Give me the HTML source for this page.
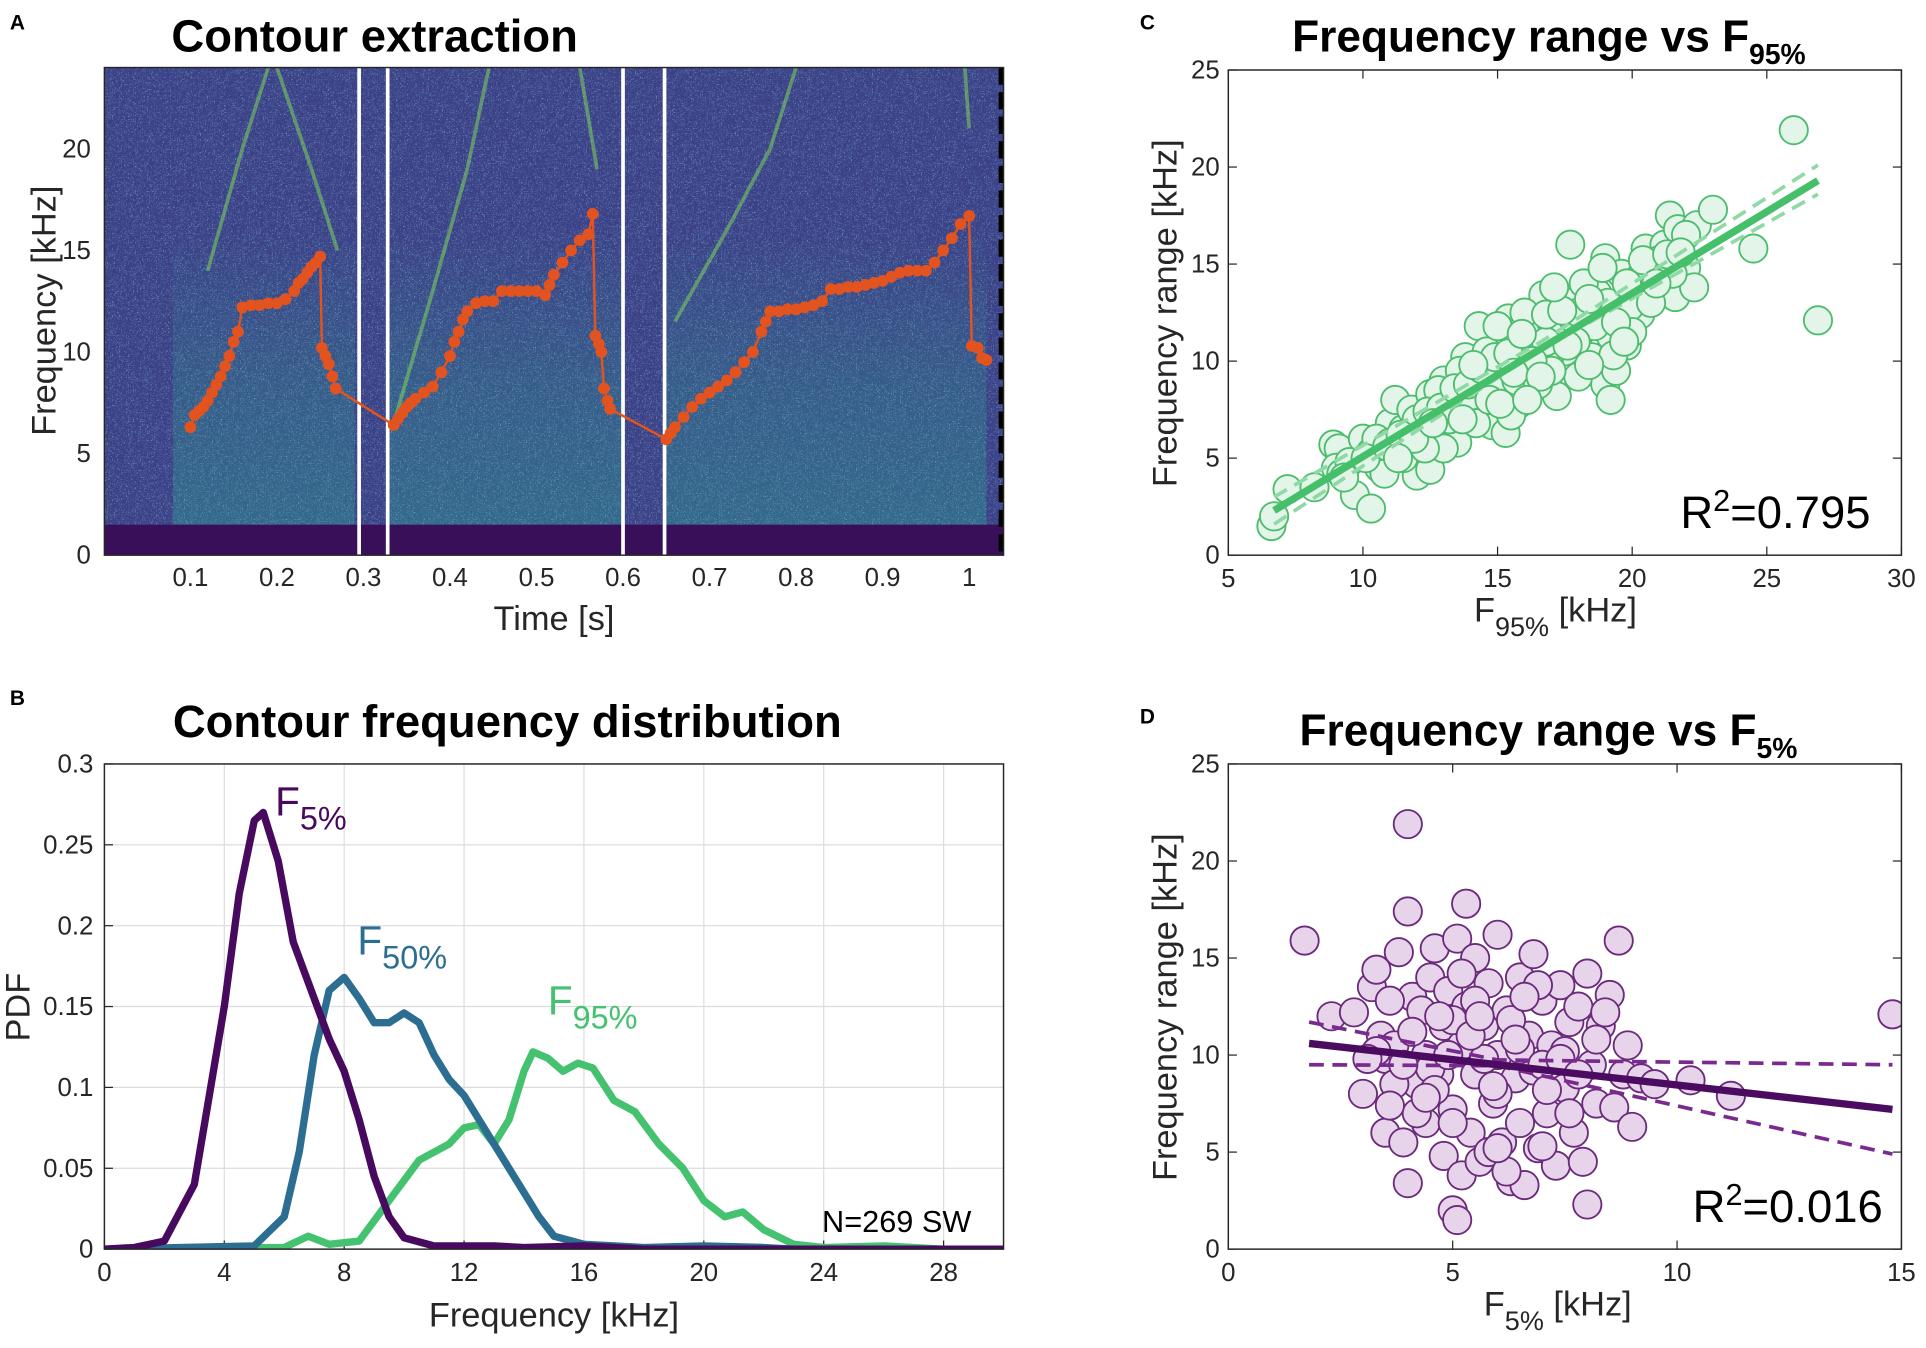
<!DOCTYPE html>
<html><head><meta charset="utf-8">
<style>
html,body{margin:0;padding:0;background:#fff;}
svg{display:block;font-family:"Liberation Sans",Arial,sans-serif;}
</style></head>
<body>
<svg id="fig" width="1926" height="1348" viewBox="0 0 1568 1097.5" preserveAspectRatio="none" xmlns="http://www.w3.org/2000/svg">
<defs>
<filter id="noise" x="0" y="0" width="100%" height="100%">
<feTurbulence type="turbulence" baseFrequency="0.7" numOctaves="2" seed="3"/>
<feColorMatrix type="matrix" values="0 0 0 0 0.17  0 0 0 0 0.45  0 0 0 0 0.55  2.2 0 0 0 -0.55"/>
</filter>
<filter id="noise2" x="0" y="0" width="100%" height="100%">
<feTurbulence type="turbulence" baseFrequency="0.9" numOctaves="1" seed="11"/>
<feColorMatrix type="matrix" values="0 0 0 0 0.24  0 0 0 0 0.12  0 0 0 0 0.45  0 2.2 0 0 -0.6"/>
</filter>
<linearGradient id="teal" x1="0" y1="1" x2="0" y2="0">
<stop offset="0" stop-color="#2a8a8c" stop-opacity="0.55"/>
<stop offset="0.5" stop-color="#2a8a8c" stop-opacity="0.35"/>
<stop offset="1" stop-color="#2a8a8c" stop-opacity="0"/>
</linearGradient>
<clipPath id="clipA"><rect x="85" y="55" width="732" height="397"/></clipPath>
<clipPath id="clipC"><rect x="1000" y="57" width="548" height="395"/></clipPath>
<clipPath id="clipD"><rect x="1000" y="622" width="548" height="395"/></clipPath>
<clipPath id="clipB"><rect x="85" y="622" width="732" height="395"/></clipPath>
</defs>
<g id="root"></g>
</svg>
<script>
// ---------- Data ----------
const contourT = [0.1,0.105,0.11,0.115,0.12,0.125,0.13,0.135,0.14,0.145,0.15,0.155,0.16,0.17,0.18,0.19,0.2,0.21,0.22,0.225,0.23,0.235,0.24,0.245,0.25,0.252,0.256,0.26,0.264,0.268,0.335,0.34,0.345,0.35,0.355,0.36,0.37,0.38,0.39,0.4,0.405,0.41,0.415,0.42,0.43,0.44,0.45,0.46,0.47,0.48,0.49,0.5,0.51,0.515,0.52,0.53,0.54,0.55,0.56,0.565,0.568,0.572,0.575,0.578,0.582,0.585,0.65,0.655,0.66,0.67,0.68,0.69,0.7,0.71,0.72,0.73,0.74,0.75,0.76,0.765,0.77,0.78,0.79,0.8,0.81,0.82,0.83,0.84,0.85,0.86,0.87,0.88,0.89,0.9,0.91,0.92,0.93,0.94,0.95,0.96,0.97,0.98,0.99,1.0,1.003,1.01,1.015,1.02];
const contourF = [6.3,6.9,7.1,7.3,7.6,8.0,8.4,8.8,9.3,9.8,10.5,11.0,12.2,12.3,12.3,12.4,12.4,12.6,13.0,13.4,13.6,13.9,14.2,14.4,14.7,10.2,9.8,9.4,8.8,8.2,6.4,6.7,7.0,7.3,7.5,7.7,8.0,8.3,9.0,9.8,10.5,11.0,11.6,12.0,12.4,12.5,12.5,13.0,13.0,13.0,13.0,13.0,12.8,13.3,13.8,14.4,15.0,15.5,15.8,16.8,10.8,10.4,10.0,8.2,7.6,7.2,5.7,6.0,6.3,6.8,7.3,7.7,8.0,8.3,8.6,9.0,9.5,10.0,11.0,11.5,12.0,12.0,12.1,12.1,12.2,12.3,12.5,13.1,13.1,13.2,13.2,13.3,13.4,13.5,13.7,13.9,14.0,14.0,14.0,14.4,15.0,15.6,16.3,16.7,10.3,10.2,9.7,9.6];
const separatorsT = [0.295,0.328,0.6,0.648];
const timeTicks = [0.1,0.2,0.3,0.4,0.5,0.6,0.7,0.8,0.9,1];
const freqTicksA = [0,5,10,15,20];

const pdfFreq5 = [0,1,2,3,4,4.5,5,5.3,5.8,6.3,7,7.5,8,8.5,9,9.5,10,11,12,13,14,16,18,30];
const pdfVal5  = [0,0.001,0.005,0.04,0.15,0.22,0.265,0.27,0.24,0.19,0.155,0.13,0.11,0.08,0.045,0.02,0.007,0.002,0.002,0.002,0.001,0.002,0,0];
const pdfFreq50 = [0,5,6,6.5,7,7.5,8,8.5,9,9.5,10,10.5,11,11.5,12,12.5,13,13.5,14,14.5,15,16,18,20,22,23,30];
const pdfVal50  = [0,0.002,0.02,0.06,0.12,0.16,0.168,0.155,0.14,0.14,0.146,0.14,0.12,0.105,0.095,0.08,0.065,0.05,0.035,0.02,0.008,0.003,0.001,0.002,0.001,0,0];
const pdfFreq95 = [0,6,6.8,7.5,8.5,9.5,10.5,11.5,12,12.5,13,13.5,14,14.3,14.8,15.3,15.8,16.3,17,17.7,18.5,19.3,20,20.7,21.3,22,23,24,26,28,30];
const pdfVal95  = [0,0.001,0.008,0.003,0.005,0.03,0.055,0.065,0.075,0.077,0.065,0.08,0.11,0.122,0.118,0.11,0.115,0.112,0.092,0.085,0.065,0.05,0.03,0.02,0.023,0.012,0.003,0.001,0.002,0,0];
const pdfXTicks = [0,4,8,12,16,20,24,28];
const pdfYTicks = [0,0.05,0.1,0.15,0.2,0.25,0.3];

const scatterC_x = [6.6,6.7,7.2,8.2,8.9,9.1,9.0,9.2,9.7,10.3,10.0,10.3,10.6,10.8,11.0,11.2,11.5,11.8,12.0,12.2,12.5,12.5,12.8,13.0,13.3,13.5,13.8,14.0,14.3,14.5,14.8,15.0,15.2,15.3,15.4,15.5,15.8,16.0,16.2,16.4,16.6,16.7,17.0,17.2,17.5,17.6,17.7,18.0,18.0,18.3,18.5,18.7,19.0,19.0,19.2,19.2,19.5,19.6,19.8,20.0,20.3,20.5,20.8,21.0,21.2,21.4,21.6,21.7,22.0,22.3,22.4,23.0,24.5,26.0,26.9,9.5,10.5,11.5,12.0,12.8,13.2,13.6,14.0,14.6,15.0,15.7,16.0,16.5,16.9,17.3,17.8,18.2,18.6,19.1,19.4,19.9,20.2,20.7,21.0,21.5,22.0,14.2,13.0,12.3,11.0,15.5,16.8,17.0,18.0,19.3,20.0,9.3,10.1,10.9,11.4,11.9,12.4,12.9,13.4,13.9,14.4,14.9,15.4,15.9,16.3,16.8,17.4,17.9,18.4,18.9,19.4,19.8,20.4,20.9,21.3,21.8,13.7,14.7,15.6,16.6,17.6,18.4,19.7,12.6,11.3,14.1,15.1,16.1,17.1];
const scatterC_y = [1.5,2.0,3.4,3.5,5.7,5.5,4.5,4.2,3.1,2.4,6.0,5.3,4.5,4.2,6.8,8.0,6.5,7.5,4.1,6.5,4.4,8.3,6.0,9.0,8.0,5.8,10.2,7.3,11.8,9.0,6.7,8.5,9.9,6.3,12.2,11.0,7.8,10.5,8.7,11.7,9.6,13.4,12.0,8.2,10.5,13.0,16.0,9.2,11.3,12.8,10.2,13.5,8.8,15.3,8.0,11.3,12.3,14.5,10.8,13.6,12.4,15.8,14.8,13.5,16.0,17.5,13.3,16.8,14.8,13.8,17.0,17.8,15.8,21.9,12.1,4.8,6.0,5.0,7.0,8.5,7.0,9.5,8.2,10.5,11.8,9.0,12.5,8.8,10.0,11.2,12.2,14.0,11.8,13.0,9.5,12.8,14.2,13.0,15.2,14.5,16.5,6.8,5.5,5.5,5.8,7.2,11.0,9.5,12.5,10.3,11.5,4.0,5.0,5.6,6.2,6.0,7.4,7.6,8.6,8.8,9.6,10.2,10.4,11.4,10.0,12.4,12.6,11.0,13.2,14.8,12.0,14.0,15.2,14.0,15.5,15.6,7.0,8.0,9.4,9.2,10.8,9.8,11.0,6.8,5.0,9.8,7.8,8.0,13.8];
const fitC_x = [6.7,26.9];
const fitC_y = [2.3,19.3];
const ciC_x = [6.7,16.5,26.9];
const ciC_lo = [1.6,10.5,18.6];
const ciC_hi = [3.0,10.9,20.1];
const cXTicks = [5,10,15,20,25,30];
const rangeTicks = [0,5,10,15,20,25];

const scatterD_x = [1.7,2.3,2.8,3.0,3.2,3.3,3.4,3.5,3.5,3.7,3.8,3.9,4.0,4.0,4.0,4.1,4.2,4.3,4.4,4.4,4.5,4.6,4.7,4.8,4.8,4.9,5.0,5.0,5.1,5.1,5.2,5.2,5.3,5.3,5.4,5.5,5.5,5.6,5.7,5.8,5.9,6.0,6.0,6.1,6.2,6.3,6.4,6.5,6.5,6.6,6.7,6.8,6.8,6.9,7.0,7.1,7.2,7.3,7.4,7.5,7.6,7.7,7.8,7.9,8.0,8.0,8.1,8.2,8.3,8.5,8.6,8.7,8.8,9.0,9.2,9.5,10.3,11.2,14.8,4.5,5.0,5.5,6.0,6.5,7.0,7.5,4.2,3.7,5.8,6.2,7.0,3.3,3.6,4.1,4.6,5.2,5.7,6.3,6.9,7.4,8.2,3.9,4.4,4.9,5.4,5.9,6.4,7.1,7.8,8.4,3.1,3.6,4.7,5.6,6.6,7.6,8.9,5.0,6.0];
const scatterD_y = [15.9,12.0,12.2,8.0,13.5,14.4,11.0,9.8,6.0,10.5,15.3,5.5,17.4,21.9,3.4,13.0,8.5,12.3,10.0,6.5,14.0,15.5,9.0,11.5,4.8,13.3,7.2,2.0,16.0,1.5,10.5,3.8,17.8,12.5,6.0,15.0,9.0,4.5,11.5,13.7,7.5,16.2,10.0,5.5,12.3,3.5,8.8,14.0,6.5,3.3,11.0,15.2,9.2,5.2,12.8,7.0,10.5,4.3,13.6,8.3,11.7,6.0,12.5,4.5,14.2,2.3,9.5,7.5,11.5,13.1,7.3,15.9,9.0,6.3,8.8,8.5,8.7,7.9,12.1,9.3,11.8,12.8,8.0,10.3,9.5,10.2,7.0,8.5,5.0,4.0,5.3,10.2,12.8,11.2,8.2,14.2,9.8,11.8,13.6,9.8,10.8,9.5,7.8,10.0,11.0,8.4,10.8,8.2,9.0,12.2,9.8,7.4,12.0,12.0,13.0,7.0,10.5,6.5,5.2];
const fitD_x = [1.8,14.8];
const fitD_y = [10.6,7.2];
const ciD_x = [1.8,6.0,14.8];
const ciD_lo = [9.5,9.45,4.9];
const ciD_hi = [11.7,9.75,9.5];
const dXTicks = [0,5,10,15];

// ---------- helpers ----------
const NS = "http://www.w3.org/2000/svg";
const root = document.getElementById('root');
function mk(tag, attrs, parent){
  const e = document.createElementNS(NS, tag);
  for (const k in attrs) e.setAttribute(k, attrs[k]);
  (parent||root).appendChild(e);
  return e;
}
function txt(s, x, y, size, opts, parent){
  opts = opts||{};
  const t = mk('text', {x:x, y:y, 'font-size':size, fill:opts.fill||'#262626', 'text-anchor':opts.anchor||'middle', 'font-weight':opts.weight||'normal'}, parent);
  if (opts.rotate) t.setAttribute('transform', 'rotate(-90 '+x+' '+y+')');
  t.textContent = s;
  return t;
}
function lin(d0,d1,r0,r1){ return v => r0 + (v-d0)*(r1-r0)/(d1-d0); }

// ---------- Panel A ----------
const gA = mk('g', {});


const xA = lin(0.1,1,155,789), yA = lin(0,24,452,55);
const spec = mk('g', {'clip-path':'url(#clipA)'}, gA);
mk('rect', {x:85,y:55,width:732,height:397,fill:'#3a3f86'}, spec);
[[0.08,0.29],[0.33,0.6],[0.65,1.02]].forEach(r=>{
  mk('rect', {x:xA(r[0]),y:yA(16),width:xA(r[1])-xA(r[0]),height:yA(1.5)-yA(16),fill:'url(#teal)'}, spec);
});
mk('rect', {x:85,y:55,width:732,height:397,filter:'url(#noise)',opacity:0.7}, spec);
mk('rect', {x:85,y:55,width:732,height:397,filter:'url(#noise2)',opacity:0.6}, spec);
mk('rect', {x:85,y:yA(1.5),width:732,height:yA(0)-yA(1.5),fill:'#3a0f5a'}, spec);
const streaks = [[[0.12,14],[0.16,20],[0.19,24]],[[0.335,6.5],[0.38,13],[0.42,19],[0.445,24]],[[0.66,11.5],[0.72,16],[0.77,20],[0.8,24]],[[0.2,24],[0.24,19],[0.27,15]],[[0.55,24],[0.57,19]],[[0.995,24],[1.0,21]]];
streaks.forEach(s=>{
  const p = mk('polyline', {points:s.map(q=>xA(q[0])+','+yA(q[1])).join(' '), fill:'none', stroke:'#7ed35a', 'stroke-width':3, opacity:0.55}, spec);
  
  
});
separatorsT.forEach(t=>{
  const l = mk('line', {x1:xA(t),x2:xA(t),y1:55,y2:452,stroke:'#fff','stroke-width':3}, spec);
  
  
});
mk('line', {x1:815,x2:815,y1:55,y2:452,stroke:'#000','stroke-width':4,'stroke-dasharray':'14 6'}, spec);
const cl = mk('polyline', {points:contourT.map((t,i)=>xA(t)+','+yA(contourF[i])).join(' '), fill:'none', stroke:'#e2531f','stroke-width':2}, spec);


contourT.forEach((t,i)=>{
  const c = mk('circle', {cx:xA(t), cy:yA(contourF[i]), r:4.8, fill:'#e2531f'}, spec);
  
  
});
mk('rect', {x:85,y:55,width:732,height:397,fill:'none',stroke:'#262626','stroke-width':1.2}, gA);
timeTicks.forEach(t=>{ txt(String(t), xA(t), 477, 21, {}, gA); });
freqTicksA.forEach(f=>{ txt(String(f), 74, yA(f)+7, 21, {anchor:'end'}, gA); });
txt('Time [s]', 451, 513, 28, {}, gA);
txt('Frequency [kHz]', 45, 253, 28, {rotate:true}, gA);
txt('Contour extraction', 305, 42, 37, {weight:'bold', fill:'#000'}, gA);
txt('A', 8, 24, 17, {weight:'bold', fill:'#000', anchor:'start'}, gA);

// ---------- Panel B ----------
const gB = mk('g', {});


const xB = lin(0,30,85,817), yB = lin(0,0.3,1017,622);
pdfXTicks.forEach(v=>{ mk('line',{x1:xB(v),x2:xB(v),y1:622,y2:1017,stroke:'#dcdcdc','stroke-width':1},gB); txt(String(v), xB(v), 1043, 21, {}, gB); mk('line',{x1:xB(v),x2:xB(v),y1:1017,y2:1010,stroke:'#262626'},gB);});
pdfYTicks.forEach(v=>{ mk('line',{x1:85,x2:817,y1:yB(v),y2:yB(v),stroke:'#dcdcdc','stroke-width':1},gB); txt(String(v), 76, yB(v)+7, 21, {anchor:'end'}, gB); mk('line',{x1:85,x2:92,y1:yB(v),y2:yB(v),stroke:'#262626'},gB);});
const gBc = mk('g', {'clip-path':'url(#clipB)'}, gB);
function curve(xs, ys, color, name){
  const p = mk('polyline', {points:xs.map((x,i)=>xB(x)+','+yB(ys[i])).join(' '), fill:'none', stroke:color, 'stroke-width':6, 'stroke-linejoin':'round','stroke-linecap':'round'}, gBc);
  
  
}
curve(pdfFreq95, pdfVal95, '#44c26f', 'curve-f95');
curve(pdfFreq50, pdfVal50, '#2c6e91', 'curve-f50');
curve(pdfFreq5, pdfVal5, '#470a5e', 'curve-f5');
mk('rect', {x:85,y:622,width:732,height:395,fill:'none',stroke:'#262626','stroke-width':1.2}, gB);
function subLabel(main, sub, x, y, color, size, parent){
  const t = mk('text', {x:x,y:y,'font-size':size,fill:color}, parent);
  t.textContent = main;
  const ts = mk('tspan', {dy:size*0.35,'font-size':size*0.8}, t);
  ts.textContent = sub;
  return t;
}
subLabel('F','5%', 224, 664, '#470a5e', 33, gB);
subLabel('F','50%', 291, 777, '#2c6e91', 33, gB);
subLabel('F','95%', 446, 826, '#44c26f', 33, gB);
txt('N=269 SW', 730, 1003, 25, {fill:'#000'}, gB);
txt('Frequency [kHz]', 451, 1080, 28, {}, gB);
txt('PDF', 24, 820, 28, {rotate:true}, gB);
txt('Contour frequency distribution', 413, 600, 37, {weight:'bold', fill:'#000'}, gB);
txt('B', 8, 574, 17, {weight:'bold', fill:'#000', anchor:'start'}, gB);

// ---------- Panels C & D ----------
function scatterPanel(cfg){
  const g = mk('g', {});
  
  
  const X = lin(cfg.xd[0],cfg.xd[1],1000,1548), Y = lin(0,25,cfg.y0+395,cfg.y0);
  cfg.xt.forEach(v=>{ txt(String(v), X(v), cfg.y0+421, 21, {}, g); mk('line',{x1:X(v),x2:X(v),y1:cfg.y0+395,y2:cfg.y0+388,stroke:'#262626'},g); mk('line',{x1:X(v),x2:X(v),y1:cfg.y0,y2:cfg.y0+7,stroke:'#262626'},g);});
  rangeTicks.forEach(v=>{ txt(String(v), 993, Y(v)+7, 21, {anchor:'end'}, g); mk('line',{x1:1000,x2:1007,y1:Y(v),y2:Y(v),stroke:'#262626'},g); mk('line',{x1:1548,x2:1541,y1:Y(v),y2:Y(v),stroke:'#262626'},g);});
  const gc = mk('g', {'clip-path':'url('+cfg.clip+')'}, g);
  cfg.xs.forEach((x,i)=>{
    const c = mk('circle', {cx:X(x), cy:Y(cfg.ys[i]), r:11.5, fill:cfg.fill, stroke:cfg.stroke, 'stroke-width':1.5}, gc);
    
    
  });
  const lo = mk('polyline', {points:cfg.cix.map((x,i)=>X(x)+','+Y(cfg.cilo[i])).join(' '), fill:'none', stroke:cfg.ci, 'stroke-width':3, 'stroke-dasharray':'12 7'}, gc);
  
  
  const hi = mk('polyline', {points:cfg.cix.map((x,i)=>X(x)+','+Y(cfg.cihi[i])).join(' '), fill:'none', stroke:cfg.ci, 'stroke-width':3, 'stroke-dasharray':'12 7'}, gc);
  
  
  const f = mk('line', {x1:X(cfg.fx[0]),y1:Y(cfg.fy[0]),x2:X(cfg.fx[1]),y2:Y(cfg.fy[1]),stroke:cfg.line,'stroke-width':6}, gc);
  
  
  mk('rect', {x:1000,y:cfg.y0,width:548,height:395,fill:'none',stroke:'#262626','stroke-width':1.2}, g);
  const r2 = mk('text', {x:cfg.r2x, y:cfg.y0+373, 'font-size':37, fill:'#000'}, g);
  r2.textContent = 'R';
  const sup = mk('tspan', {dy:-14,'font-size':25}, r2); sup.textContent = '2';
  const rv = mk('tspan', {dy:14}, r2); rv.textContent = '='+cfg.r2;
  const xl = mk('text', {x:cfg.xlx, y:cfg.y0+449, 'font-size':28, fill:'#262626'}, g);
  xl.textContent = 'F';
  const xs = mk('tspan', {dy:12,'font-size':22}, xl); xs.textContent = cfg.sub;
  const xr = mk('tspan', {dy:-12}, xl); xr.textContent = ' [kHz]';
  txt('Frequency range [kHz]', 958, cfg.y0+198, 28, {rotate:true}, g);
  const tt = mk('text', {x:cfg.tx, y:cfg.y0-15, 'font-size':36, 'font-weight':'bold', fill:'#000'}, g);
  tt.textContent = 'Frequency range vs F';
  const ts = mk('tspan', {dy:10,'font-size':23}, tt); ts.textContent = cfg.sub;
  txt(cfg.letter, 928, cfg.y0-33, 17, {weight:'bold', fill:'#000', anchor:'start'}, g);
}
scatterPanel({name:'panel-c-scatter-f95', xd:[5,30], y0:57, xt:cXTicks, clip:'#clipC', xs:scatterC_x, ys:scatterC_y, fill:'#e3f5e8', stroke:'#4cbd6c', line:'#46bf6b', ci:'#8fd9a5', fx:fitC_x, fy:fitC_y, cix:ciC_x, cilo:ciC_lo, cihi:ciC_hi, r2:'0.795', r2x:1368, xlx:1200, sub:'95%', tx:1052, letter:'C'});
scatterPanel({name:'panel-d-scatter-f5', xd:[0,15], y0:622, xt:dXTicks, clip:'#clipD', xs:scatterD_x, ys:scatterD_y, fill:'#e8d4ea', stroke:'#6b2a7c', line:'#4a0b60', ci:'#7a2a8f', fx:fitD_x, fy:fitD_y, cix:ciD_x, cilo:ciD_lo, cihi:ciD_hi, r2:'0.016', r2x:1378, xlx:1208, sub:'5%', tx:1058, letter:'D'});
</script>
</body></html>
